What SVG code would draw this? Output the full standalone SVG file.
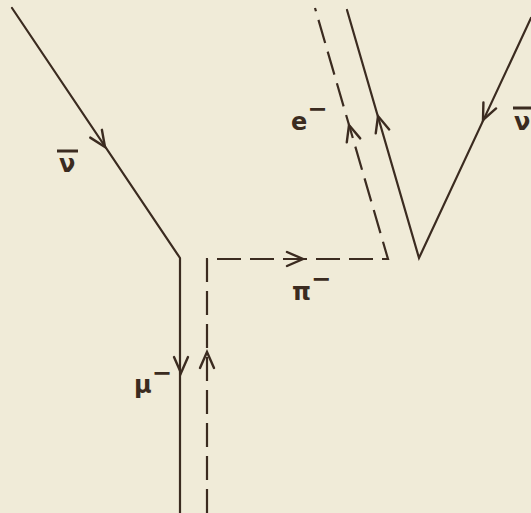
<svg xmlns="http://www.w3.org/2000/svg" width="531" height="513" viewBox="0 0 531 513">
<style>
.ln{fill:none;stroke:#3b2b20;stroke-width:2.2;stroke-linecap:round;stroke-linejoin:miter}
.ds{stroke-dasharray:24 9;stroke-linecap:butt}
.ah{fill:none;stroke:#3b2b20;stroke-width:2.4;stroke-linejoin:miter;stroke-linecap:round}
.lbl{font-family:"DejaVu Sans",sans-serif;font-weight:bold;font-size:24px;fill:#3b2b20}
.bar{stroke:#3b2b20;stroke-width:3}
</style>
<defs>
<path id="chev" d="M -16,-7 L 0,0 L -16,7"/>
</defs>
<rect width="531" height="513" fill="#f0ebd8"/>
<g id="connectors">
<path id="nubar-mu" class="ln" d="M 12,8 L 180,258 L 180,513"/>
<path id="pi-line" class="ln ds" d="M 207,513 L 207,259 L 388,259 L 315,8"/>
<path id="e-line" class="ln" d="M 347,10 L 419,258 L 531,18"/>
<use href="#chev" class="ah" transform="translate(105,147) rotate(56.1)"/>
<use href="#chev" class="ah" transform="translate(181,373) rotate(90)"/>
<use href="#chev" class="ah" transform="translate(207,352) rotate(-90)"/>
<use href="#chev" class="ah" transform="translate(303,259) rotate(0)"/>
<use href="#chev" class="ah" transform="translate(349,125) rotate(-106.3)"/>
<use href="#chev" class="ah" transform="translate(378,116) rotate(-106.2)"/>
<use href="#chev" class="ah" transform="translate(483,120) rotate(115)"/>
</g>
<g id="label-nubar-left">
<line class="bar" x1="57" y1="151" x2="78" y2="151"/>
<text class="lbl" x="59" y="172">ν</text>
</g>
<g id="label-mu">
<text class="lbl" x="134" y="393" font-size="20">μ<tspan dy="-12">−</tspan></text>
</g>
<g id="label-pi">
<text class="lbl" x="292" y="300">π<tspan dy="-13">−</tspan></text>
</g>
<g id="label-e">
<text class="lbl" x="291" y="130">e<tspan dy="-13">−</tspan></text>
</g>
<g id="label-nubar-right">
<line class="bar" x1="513" y1="108" x2="531" y2="108"/>
<text class="lbl" x="514" y="130">ν</text>
</g>
</svg>
